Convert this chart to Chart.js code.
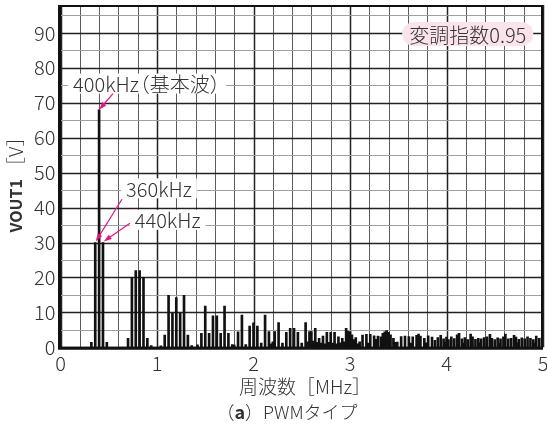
<!DOCTYPE html>
<html>
<head>
<meta charset="utf-8">
<script src="https://cdn.jsdelivr.net/npm/chart.js@4.4.1/dist/chart.umd.min.js"></script>
<style>
  html, body { margin: 0; padding: 0; background: #fff; overflow: hidden; }
  #wrap { width: 552px; height: 425px; }
</style>
</head>
<body>
<div id="wrap"><canvas id="spectrum" width="552" height="425"></canvas></div>
<script>
// spectrum lines (MHz, V)
const freqMHz = [
  0.32, 0.36, 0.40, 0.44, 0.48,
  0.70, 0.74, 0.78, 0.82, 0.86, 0.90, 0.94,
  1.04, 1.08, 1.12, 1.16, 1.20, 1.24, 1.28, 1.32, 1.36,
  1.42, 1.46, 1.50, 1.54, 1.58, 1.62, 1.66, 1.70, 1.74, 1.78, 1.80,
  1.84, 1.88, 1.92, 1.96, 2.00, 2.04, 2.08, 2.12, 2.16, 2.18, 2.20,
  2.22, 2.26, 2.30, 2.34, 2.38, 2.42, 2.46, 2.50, 2.54, 2.56, 2.58,
  2.60, 2.62, 2.64, 2.66, 2.68, 2.70, 2.72, 2.74, 2.76, 2.78, 2.80,
  2.82, 2.84, 2.86, 2.88, 2.90, 2.92, 2.94, 2.96, 2.98,
  3.00, 3.02, 3.04, 3.06, 3.08, 3.10, 3.13, 3.17, 3.19, 3.21, 3.25,
  3.27, 3.29, 3.32, 3.34, 3.36, 3.38, 3.40, 3.42, 3.45, 3.47, 3.49,
  3.53, 3.57, 3.61, 3.63, 3.65, 3.69, 3.71, 3.73, 3.77, 3.79, 3.81,
  3.85, 3.88, 3.91, 3.94, 3.97, 3.99, 4.00, 4.02, 4.05, 4.08, 4.11,
  4.13, 4.16, 4.17, 4.19, 4.22, 4.25, 4.27, 4.30, 4.33, 4.35, 4.36,
  4.39, 4.42, 4.45, 4.47, 4.50, 4.53, 4.55, 4.56, 4.59, 4.61, 4.64,
  4.67, 4.70, 4.72, 4.74, 4.75, 4.78, 4.81, 4.84, 4.87, 4.90, 4.91,
  4.93, 4.96, 4.99
];
const vout = [
  1.4, 30, 68, 30, 1.4,
  2.6, 20, 22, 22, 20, 2.6, 0.5,
  0.4, 3.5, 14.9, 9.7, 14.2, 9.7, 14.9, 3.5, 0.5,
  0.7, 4.0, 11.8, 4.0, 9.0, 9.0, 4.0, 11.8, 4.0, 0.8, 0.6,
  4.4, 9.2, 0.8, 6.1, 7.0, 6.1, 1.2, 9.2, 4.5, 1.0, 1.6,
  4.5, 7.1, 1.2, 4.3, 5.4, 5.4, 4.3, 1.2, 7.1, 1.6, 4.5,
  4.5, 1.8, 5.4, 1.4, 2.6, 1.2, 3.2, 1.0, 4.3, 1.4, 4.3,
  1.2, 4.3, 1.0, 3.0, 1.3, 2.6, 1.6, 5.4, 4.6,
  4.4, 3.6, 2.2, 2.8, 1.0, 1.6, 3.5, 3.7, 1.2, 3.7, 3.3,
  2.3, 3.2, 3.0, 4.0, 4.4, 4.8, 4.3, 3.6, 2.6, 1.4, 1.5,
  3.1, 3.2, 3.1, 1.2, 3.0, 3.4, 3.8, 3.2, 2.6, 1.3, 3.3,
  2.9, 2.0, 2.8, 3.4, 2.4, 1.4, 2.9, 2.2, 3.0, 2.5, 3.6,
  4.0, 2.4, 1.2, 2.8, 2.2, 3.8, 3.0, 2.3, 2.6, 1.3, 2.4,
  2.8, 3.0, 3.7, 2.6, 2.2, 2.7, 1.2, 2.4, 3.0, 3.8, 2.4,
  2.6, 3.4, 2.9, 1.3, 2.3, 2.7, 2.4, 3.0, 2.6, 2.2, 1.2,
  3.2, 2.6, 2.8
];
const xTickLabels = ['0', '1', '2', '3', '4', '5'];
const yTickLabels = ['0', '10', '20', '30', '40', '50', '60', '70', '80', '90'];
const xMinorStep = 0.2;
const yMinorStep = 5;

const FONT = "'Noto Sans CJK JP', 'Noto Sans', sans-serif";

// text callouts, placed in data units; pieces carry small kerning for the full-width brackets
const callouts = [
  { x: 0.896, y: 75.5, pieces: [['400kHz', 0, 0], ['（', -9, 0], ['基本波', 0, 0], ['）', 0, -9]] },
  { x: 1.02, y: 45.5, pieces: [['360kHz', 0, 0]] },
  { x: 1.11, y: 36.5, pieces: [['440kHz', 0, 0]] }
];
const arrows = [
  { from: [0.544, 72.6], to: [0.40, 68] },
  { from: [0.637, 42.4], to: [0.365, 30.3] },
  { from: [0.72, 35.5], to: [0.448, 30.3] }
];

function isWhole(v) { return Math.abs(v - Math.round(v)) < 1e-6; }

const decorations = {
  id: 'decorations',
  beforeDatasetsDraw(chart) {
    // grid: minor every 0.2 MHz / 5 V, major every 1 MHz / 10 V
    const { ctx, chartArea: a, scales: { x, y } } = chart;
    ctx.save();
    for (let i = 0; i * xMinorStep <= x.max + 1e-9; i++) {
      const v = i * xMinorStep;
      const major = isWhole(v);
      const px = Math.round(x.getPixelForValue(v)) + 0.5;
      ctx.strokeStyle = major ? '#222' : '#5c5c5c';
      ctx.lineWidth = major ? 1.5 : 1;
      ctx.beginPath(); ctx.moveTo(px, a.top); ctx.lineTo(px, a.bottom); ctx.stroke();
    }
    for (let v = 0; v <= y.max; v += yMinorStep) {
      const major = v % 10 === 0;
      const py = Math.round(y.getPixelForValue(v)) + 0.5;
      ctx.strokeStyle = major ? '#222' : '#a0a0a0';
      ctx.lineWidth = major ? 1.5 : 1;
      ctx.beginPath(); ctx.moveTo(a.left, py); ctx.lineTo(a.right, py); ctx.stroke();
    }
    ctx.restore();
  },
  afterDatasetsDraw(chart) {
    const { ctx, chartArea: a, scales: { x, y } } = chart;
    ctx.save();

    // frame
    ctx.strokeStyle = '#111';
    ctx.lineWidth = 2;
    ctx.beginPath();
    ctx.moveTo(a.left, a.top + 1);
    ctx.lineTo(a.right - 1, a.top + 1);
    ctx.lineTo(a.right - 1, a.bottom);
    ctx.stroke();
    ctx.lineWidth = 3;
    ctx.beginPath();
    ctx.moveTo(a.left - 1, a.top);
    ctx.lineTo(a.left - 1, a.bottom + 1);
    ctx.lineTo(a.right, a.bottom + 1);
    ctx.stroke();

    // callout labels on white
    ctx.font = '300 20px ' + FONT;
    ctx.textAlign = 'left';
    ctx.textBaseline = 'middle';
    callouts.forEach(c => {
      const px = x.getPixelForValue(c.x), py = y.getPixelForValue(c.y);
      let w = 0;
      c.pieces.forEach(p => { w += p[1] + ctx.measureText(p[0]).width + p[2]; });
      ctx.fillStyle = '#fff';
      ctx.fillRect(px - w / 2 - 5, py - 10, w + 10, 20);
      ctx.fillStyle = '#333';
      let cx = px - w / 2;
      c.pieces.forEach(p => {
        cx += p[1];
        ctx.fillText(p[0], cx, py + 1);
        cx += ctx.measureText(p[0]).width + p[2];
      });
    });

    // magenta arrows
    ctx.strokeStyle = '#e4157f';
    ctx.fillStyle = '#e4157f';
    ctx.lineWidth = 1.2;
    arrows.forEach(ar => {
      const x0 = x.getPixelForValue(ar.from[0]), y0 = y.getPixelForValue(ar.from[1]);
      const x1 = x.getPixelForValue(ar.to[0]), y1 = y.getPixelForValue(ar.to[1]);
      const ang = Math.atan2(y1 - y0, x1 - x0);
      const c = Math.cos(ang), s = Math.sin(ang);
      ctx.beginPath();
      ctx.moveTo(x0, y0);
      ctx.lineTo(x1 - 6 * c, y1 - 6 * s);
      ctx.stroke();
      ctx.beginPath();
      ctx.moveTo(x1, y1);
      ctx.lineTo(x1 - 8 * c + 2.6 * s, y1 - 8 * s - 2.6 * c);
      ctx.lineTo(x1 - 8 * c - 2.6 * s, y1 - 8 * s + 2.6 * c);
      ctx.closePath();
      ctx.fill();
    });

    // modulation index badge
    const bx = x.getPixelForValue(4.22), by = y.getPixelForValue(89.7);
    ctx.font = '300 20px ' + FONT;
    ctx.textAlign = 'center';
    const badge = '変調指数0.95';
    const bw = ctx.measureText(badge).width + 14;
    ctx.fillStyle = '#fbe3ec';
    ctx.beginPath();
    ctx.roundRect(bx - bw / 2, by - 12, bw, 24, 12);
    ctx.fill();
    ctx.fillStyle = '#333';
    ctx.fillText(badge, bx, by + 1);

    ctx.restore();
  },
  afterDraw(chart) {
    const { ctx } = chart;
    ctx.save();
    ctx.fillStyle = '#333';
    ctx.textBaseline = 'middle';

    // y axis title: bold VOUT1 + [V]
    ctx.translate(16, 180);
    ctx.rotate(-Math.PI / 2);
    ctx.font = 'bold 16px ' + FONT;
    const t1 = 'VOUT1';
    const w1 = ctx.measureText(t1).width;
    ctx.font = '300 19px ' + FONT;
    const t2 = '［V］';
    const w2 = ctx.measureText(t2).width;
    const gap = 3;
    const sx = -(w1 + gap + w2) / 2;
    ctx.textAlign = 'left';
    ctx.font = 'bold 16px ' + FONT;
    ctx.fillText(t1, sx, 0);
    ctx.font = '300 19px ' + FONT;
    ctx.fillText(t2, sx + w1 + gap, 0);
    ctx.setTransform(1, 0, 0, 1, 0, 0);

    // x axis title
    ctx.textAlign = 'center';
    ctx.font = '300 19px ' + FONT;
    ctx.fillText('周波数［MHz］', 305, 387);

    // caption with bold a
    const parts = [['（', '300'], ['a', 'bold'], ['）PWMタイプ', '300']];
    let total = 0;
    parts.forEach(p => { ctx.font = p[1] + ' 18px ' + FONT; total += ctx.measureText(p[0]).width; });
    let cx = 287 - total / 2;
    ctx.textAlign = 'left';
    parts.forEach(p => {
      ctx.font = p[1] + ' 18px ' + FONT;
      ctx.fillText(p[0], cx, 412);
      cx += ctx.measureText(p[0]).width;
    });
    ctx.restore();
  }
};

const ctx = document.getElementById('spectrum').getContext('2d');
const chart = new Chart(ctx, {
  type: 'bar',
  data: {
    datasets: [{
      label: 'VOUT1',
      data: freqMHz.map((f, i) => ({ x: f, y: vout[i] })),
      backgroundColor: '#111',
      barThickness: 2,
      grouped: false
    }]
  },
  options: {
    responsive: false,
    animation: false,
    layout: { padding: { top: 5, right: 9, left: 0, bottom: 0 } },
    plugins: {
      legend: { display: false },
      tooltip: { enabled: false }
    },
    scales: {
      x: {
        type: 'linear',
        min: 0,
        max: 5,
        offset: false,
        afterFit(scale) {
          scale.height = 77.7;
          scale.paddingLeft = 0;
          scale.paddingRight = 0;
        },
        border: { display: false },
        grid: { display: false, drawTicks: false, offset: false },
        ticks: {
          stepSize: 1,
          autoSkip: false,
          maxRotation: 0,
          padding: 4,
          color: '#333',
          font: { family: FONT, size: 20, weight: '300' },
          callback: v => xTickLabels[Math.round(v)]
        }
      },
      y: {
        min: 0,
        max: 98,
        afterFit(scale) {
          scale.width = 60.5;
          scale.paddingTop = 0;
          scale.paddingBottom = 0;
        },
        border: { display: false },
        grid: { display: false, drawTicks: false },
        ticks: {
          stepSize: 10,
          includeBounds: false,
          padding: 5,
          color: '#333',
          font: { family: FONT, size: 20, weight: '300' },
          callback: v => yTickLabels[v / 10]
        }
      }
    }
  },
  plugins: [decorations]
});
</script>
</body>
</html>
